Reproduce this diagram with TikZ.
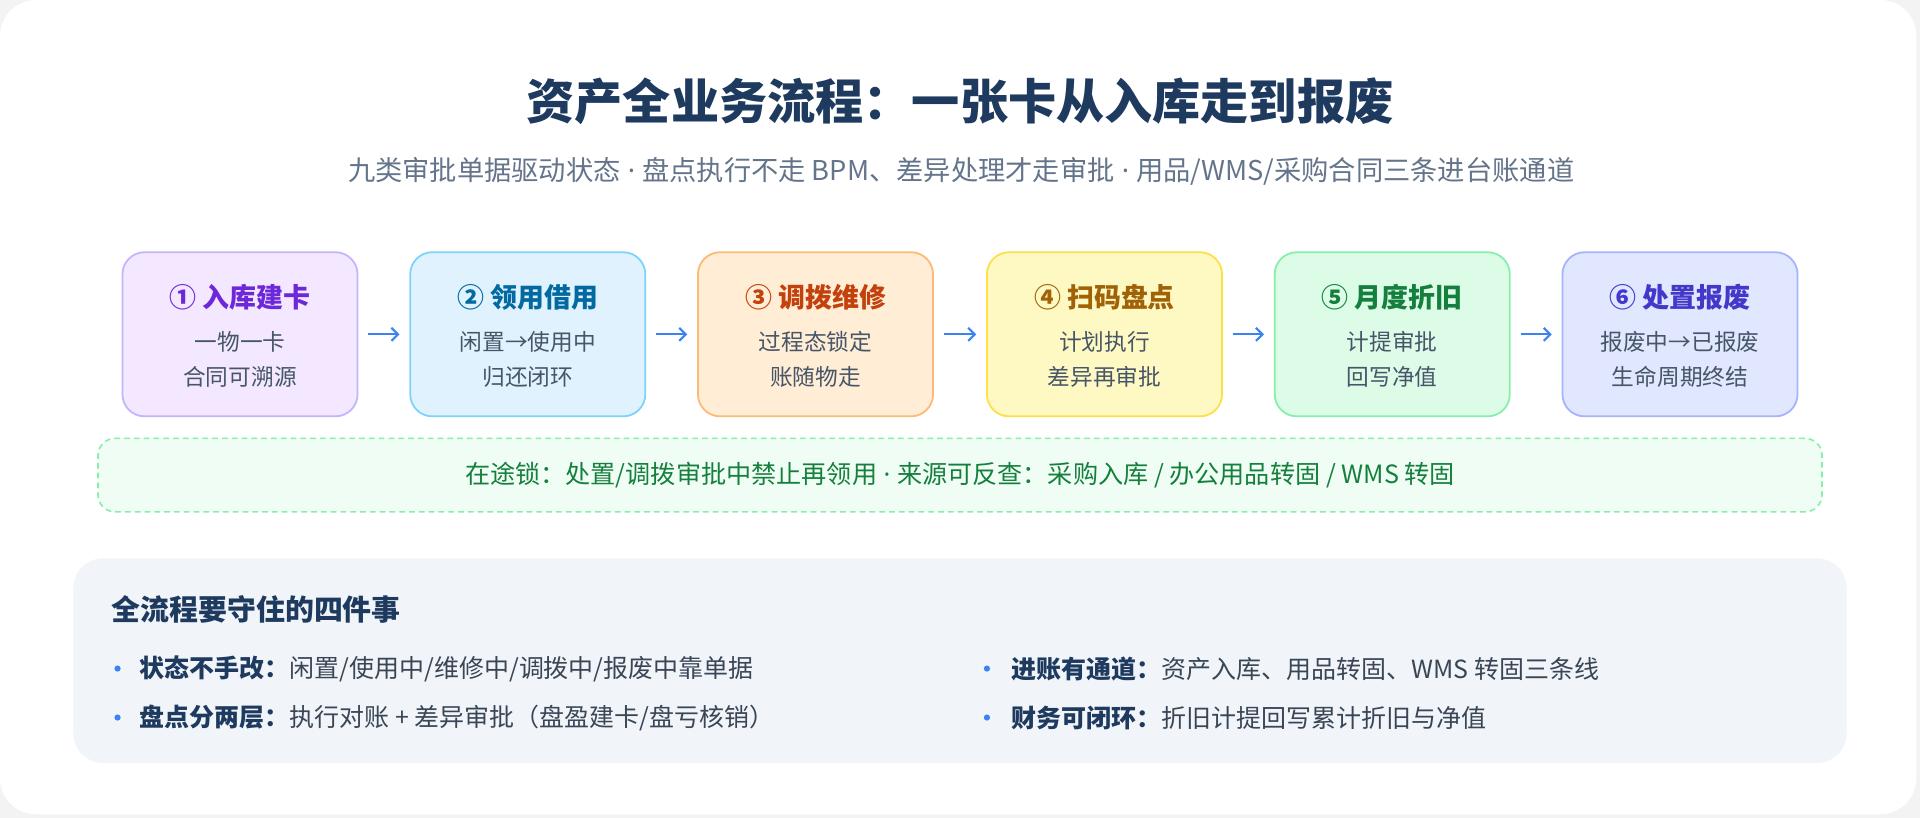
\documentclass[tikz,border=0pt]{standalone}
\usepackage{fontspec}
\setmainfont{Noto Sans CJK SC}
\newfontfamily\latinfont{Noto Sans}
\newcommand{\sepdot}{{\latinfont\ ·\ }}
\usetikzlibrary{arrows.meta}
\definecolor{pagebg}{HTML}{F3F3F4}
\definecolor{navy}{HTML}{1E3A5F}
\definecolor{subgray}{HTML}{64748B}
\definecolor{bodytxt}{HTML}{475569}
\definecolor{darktxt}{HTML}{1E293B}
\definecolor{bullbody}{HTML}{3A4656}
\definecolor{arrowblue}{HTML}{3B82F6}
\definecolor{fA}{HTML}{F3E8FF}\definecolor{dA}{HTML}{C4B5FD}\definecolor{tA}{HTML}{6D28D9}
\definecolor{fB}{HTML}{E0F2FE}\definecolor{dB}{HTML}{7DD3FC}\definecolor{tB}{HTML}{0369A1}
\definecolor{fC}{HTML}{FFEDD5}\definecolor{dC}{HTML}{FDBA74}\definecolor{tC}{HTML}{C2410C}
\definecolor{fD}{HTML}{FEF9C3}\definecolor{dD}{HTML}{FDE047}\definecolor{tD}{HTML}{A16207}
\definecolor{fE}{HTML}{DCFCE7}\definecolor{dE}{HTML}{86EFAC}\definecolor{tE}{HTML}{15803D}
\definecolor{fF}{HTML}{E0E7FF}\definecolor{dF}{HTML}{A5B4FC}\definecolor{tF}{HTML}{4338CA}
\definecolor{lockfill}{HTML}{F0FDF4}
\definecolor{panelfill}{HTML}{F1F5F9}
\tikzset{
  stepbox/.style={draw, rounded corners=13.5pt, line width=1.1pt, minimum width=144pt, minimum height=100.5pt, inner sep=0pt},
  steptitle/.style={font=\fontsize{16.5}{20}\selectfont\bfseries, inner sep=0pt},
  stepbody/.style={font=\fontsize{13.9}{21}\selectfont, text=bodytxt, align=center, inner sep=0pt},
  flow/.style={draw=arrowblue, line width=1.3pt, -{Straight Barb[length=4pt,width=8pt,line width=1.3pt]}, shorten <=6pt, shorten >=6pt},
  bullettxt/.style={anchor=west, inner sep=0pt, font=\fontsize{15.3}{18}\selectfont, text=navy},
  bulletdot/.style={circle, fill=arrowblue, inner sep=0pt, minimum size=3.8pt}
}
\begin{document}
\begin{tikzpicture}[x=0.75pt,y=-0.75pt]
\useasboundingbox (0,0) rectangle (1568,668);
\fill[pagebg] (0,0) rectangle (1568,668);
\fill[white, rounded corners=22pt] (0,0) rectangle (1565,665);

% title
\node[font=\fontsize{29.5}{34}\selectfont\bfseries, text=navy, inner sep=0pt] (title) at (784,83) {资产全业务流程：一张卡从入库走到报废};
\node[font=\fontsize{16.7}{20}\selectfont, text=subgray, inner sep=0pt] (subtitle) at (785,140) {九类审批单据驱动状态\sepdot 盘点执行不走 BPM、差异处理才走审批\sepdot 用品/WMS/采购合同三条进台账通道};

% step boxes
\node[stepbox, fill=fA, draw=dA] (b1) at (196,273) {};
\node[stepbox, fill=fB, draw=dB] (b2) at (431,273) {};
\node[stepbox, fill=fC, draw=dC] (b3) at (666,273) {};
\node[stepbox, fill=fD, draw=dD] (b4) at (902,273) {};
\node[stepbox, fill=fE, draw=dE] (b5) at (1137,273) {};
\node[stepbox, fill=fF, draw=dF] (b6) at (1372,273) {};

\node[steptitle, text=tA] (t1) at (196,243) {① 入库建卡};
\node[steptitle, text=tB] (t2) at (431,243) {② 领用借用};
\node[steptitle, text=tC] (t3) at (666,243) {③ 调拨维修};
\node[steptitle, text=tD] (t4) at (902,243) {④ 扫码盘点};
\node[steptitle, text=tE] (t5) at (1137,243) {⑤ 月度折旧};
\node[steptitle, text=tF] (t6) at (1372,243) {⑥ 处置报废};

\node[stepbody] (s1) at (196,293.5) {一物一卡\\合同可溯源};
\node[stepbody] (s2) at (431,293.5) {闲置→使用中\\归还闭环};
\node[stepbody] (s3) at (666,293.5) {过程态锁定\\账随物走};
\node[stepbody] (s4) at (902,293.5) {计划执行\\差异再审批};
\node[stepbody] (s5) at (1137,293.5) {计提审批\\回写净值};
\node[stepbody] (s6) at (1372,293.5) {报废中→已报废\\生命周期终结};

\draw[flow] (b1.east) -- (b2.west);
\draw[flow] (b2.east) -- (b3.west);
\draw[flow] (b3.east) -- (b4.west);
\draw[flow] (b4.east) -- (b5.west);
\draw[flow] (b5.east) -- (b6.west);

% lock bar
\node[draw=dE, fill=lockfill, dash pattern=on 3.5pt off 2.5pt, line width=1pt, rounded corners=10.5pt,
      minimum width=1056pt, minimum height=45pt, inner sep=0pt,
      font=\fontsize{15.4}{18}\selectfont, text=tE] (lock) at (784,388)
  {在途锁：处置/调拨审批中禁止再领用\sepdot 来源可反查：采购入库 / 办公用品转固 / WMS 转固};

% bottom panel
\node[fill=panelfill, rounded corners=18pt, minimum width=1086pt, minimum height=125.25pt, inner sep=0pt] (panel) at (784,539.5) {};
\node[anchor=west, inner sep=0pt, font=\fontsize{17.7}{21}\selectfont\bfseries, text=navy] (ph) at (91,498) {全流程要守住的四件事};

\node[bulletdot] (d1) at (96,546) {};
\node[bullettxt] (l1) at (114,546) {\textbf{状态不手改：}{\color{bullbody}闲置/使用中/维修中/调拨中/报废中靠单据}};
\node[bulletdot] (d2) at (96,586) {};
\node[bullettxt] (l2) at (114,586) {\textbf{盘点分两层：}{\color{bullbody}执行对账 + 差异审批（盘盈建卡/盘亏核销）}};
\node[bulletdot] (d3) at (806,546) {};
\node[bullettxt] (l3) at (826,546) {\textbf{进账有通道：}{\color{bullbody}资产入库、用品转固、WMS 转固三条线}};
\node[bulletdot] (d4) at (806,586) {};
\node[bullettxt] (l4) at (826,586) {\textbf{财务可闭环：}{\color{bullbody}折旧计提回写累计折旧与净值}};
\end{tikzpicture}
\end{document}
